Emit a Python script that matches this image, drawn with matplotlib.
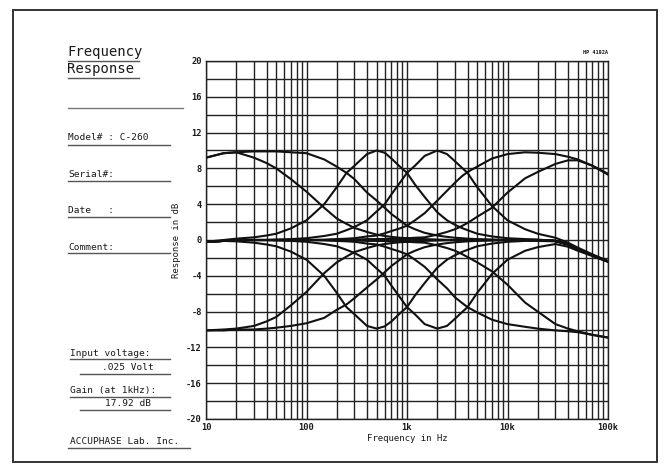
"""
Frequency response plot (Accuphase C-260 tone controls), HP 4192A style.
"""

import matplotlib
matplotlib.use("Agg")
import matplotlib.pyplot as plt
from matplotlib.lines import Line2D
from matplotlib.ticker import FixedLocator, NullFormatter

W, H = 664, 466

# Frequency points (Hz) shared by every curve
FREQS = [10, 15, 20, 30, 40, 50, 70, 100, 150, 200,
         250, 300, 400, 500, 600, 700, 850, 1000, 1200, 1500,
         2000, 2500, 3000, 3500, 4000, 5000, 7000, 10000, 15000, 20000,
         30000, 40000, 50000, 70000, 100000]

# Response in dB
flat = [-0.2, -0.1, 0, 0, 0, 0, 0, 0, 0, 0,
        0, 0, 0, 0, 0, 0, 0, 0, 0, 0,
        0, 0, 0, 0, 0, 0, 0, 0, 0, 0,
        -0.1, -0.5, -1.0, -1.7, -2.4]
bass_a_boost = [9.2, 9.7, 9.8, 9.2, 8.6, 8.0, 6.8, 5.4, 3.6, 2.4,
                1.8, 1.35, 0.9, 0.6, 0.45, 0.35, 0.25, 0.2, 0.15, 0.1,
                0.05, 0.02, 0, 0, 0, 0, 0, 0, 0, 0,
                -0.1, -0.5, -1.0, -1.7, -2.4]
bass_a_cut = [-10.1, -10.0, -9.9, -9.6, -9.1, -8.6, -7.3, -5.8, -3.7, -2.5,
              -1.85, -1.35, -0.9, -0.6, -0.45, -0.35, -0.25, -0.2, -0.15, -0.1,
              -0.05, -0.02, 0, 0, 0, 0, 0, 0, 0, 0,
              -0.1, -0.5, -1.0, -1.7, -2.4]
bass_b_boost = [9.2, 9.7, 9.8, 9.9, 9.9, 9.9, 9.8, 9.7, 9.0, 8.2,
                7.5, 6.8, 5.3, 4.4, 3.6, 2.9, 2.2, 1.6, 1.2, 0.8,
                0.5, 0.35, 0.25, 0.2, 0.15, 0.1, 0.05, 0, 0, 0,
                -0.1, -0.5, -1.0, -1.7, -2.4]
bass_b_cut = [-10.1, -10.1, -10.0, -10.0, -9.9, -9.8, -9.6, -9.3, -8.7, -7.8,
              -7.2, -6.5, -5.3, -4.4, -3.6, -2.9, -2.2, -1.6, -1.2, -0.8,
              -0.5, -0.35, -0.25, -0.2, -0.15, -0.1, -0.05, 0, 0, 0,
              -0.1, -0.5, -1.0, -1.7, -2.4]
bell_500_boost = [-0.2, 0.0, 0.15, 0.3, 0.5, 0.7, 1.3, 2.2, 4.0, 5.9,
                  7.5, 8.3, 9.6, 10.0, 9.75, 9.1, 8.2, 7.5, 6.2, 4.8,
                  3.1, 2.2, 1.7, 1.35, 1.1, 0.7, 0.4, 0.2, 0.1, 0.05,
                  -0.1, -0.5, -1.0, -1.7, -2.4]
bell_500_cut = [-0.2, -0.1, -0.15, -0.3, -0.5, -0.7, -1.3, -2.2, -4.0, -5.9,
                -7.5, -8.3, -9.6, -9.9, -9.65, -9.1, -8.2, -7.5, -6.2, -4.8,
                -3.1, -2.2, -1.7, -1.35, -1.1, -0.7, -0.4, -0.2, -0.1, -0.1,
                -0.15, -0.5, -1.0, -1.7, -2.4]
bell_2k_boost = [-0.2, -0.1, 0, 0, 0, 0.05, 0.1, 0.2, 0.45, 0.7,
                 1.1, 1.45, 2.2, 3.2, 4.0, 5.1, 6.4, 7.5, 8.3, 9.4,
                 10.0, 9.6, 8.8, 8.1, 7.5, 5.9, 3.8, 2.2, 1.2, 0.7,
                 0.25, -0.3, -0.85, -1.6, -2.35]
bell_2k_cut = [-0.2, -0.1, 0, 0, 0, -0.05, -0.1, -0.2, -0.45, -0.7,
               -1.1, -1.45, -2.2, -3.2, -4.0, -5.1, -6.4, -7.5, -8.3, -9.4,
               -9.9, -9.6, -8.8, -8.1, -7.5, -5.9, -3.8, -2.2, -1.2, -0.8,
               -0.45, -0.75, -1.2, -1.8, -2.45]
treble_a_boost = [-0.2, -0.1, 0, 0, 0, 0, 0, 0, 0, 0.05,
                  0.05, 0.05, 0.1, 0.1, 0.12, 0.15, 0.17, 0.2, 0.25, 0.3,
                  0.6, 0.9, 1.2, 1.55, 1.9, 2.6, 3.6, 5.3, 6.9, 7.6,
                  8.5, 8.9, 8.9, 8.3, 7.4]
treble_a_cut = [-0.2, -0.1, 0, 0, 0, 0, 0, 0, 0, -0.05,
                -0.05, -0.05, -0.1, -0.1, -0.12, -0.15, -0.17, -0.2, -0.25, -0.3,
                -0.6, -0.9, -1.2, -1.55, -1.9, -2.5, -3.5, -5.0, -7.0, -8.0,
                -9.4, -9.9, -10.2, -10.6, -10.9]
treble_b_boost = [-0.2, -0.1, 0, 0, 0, 0, 0, 0, 0.03, 0.1,
                  0.15, 0.2, 0.4, 0.5, 0.75, 1.0, 1.3, 1.6, 2.2, 3.0,
                  4.4, 5.5, 6.4, 7.1, 7.6, 8.2, 9.1, 9.6, 9.8, 9.75,
                  9.6, 9.3, 9.0, 8.3, 7.3]
treble_b_cut = [-0.2, -0.1, 0, 0, 0, 0, 0, 0, -0.03, -0.1,
                -0.15, -0.2, -0.4, -0.5, -0.75, -1.0, -1.3, -1.6, -2.2, -3.0,
                -4.4, -5.4, -6.4, -7.0, -7.5, -8.1, -8.9, -9.4, -9.7, -9.9,
                -10.1, -10.2, -10.3, -10.6, -10.9]

CURVES = [flat, bass_a_boost, bass_a_cut, bass_b_boost, bass_b_cut,
          bell_500_boost, bell_500_cut, bell_2k_boost, bell_2k_cut,
          treble_a_boost, treble_a_cut, treble_b_boost, treble_b_cut]

Y_TICKS = [20, 16, 12, 8, 4, 0, -4, -8, -12, -16, -20]
X_TICKS = [10, 100, 1000, 10000, 100000]
X_TICK_LABELS = ["10", "100", "1k", "10k", "100k"]

# left side form: (text, x, y, underline x0, x1, underline y)
FORM = [
    ("Model# : C-260", 68, 138, 68, 170, 145),
    ("Serial#:", 68, 175, 68, 170, 181),
    ("Date   :", 68, 211, 68, 170, 217),
    ("Comment:", 68, 247, 68, 170, 253),
    ("Input voltage:", 70, 353, 70, 170, 359),
    ("Gain (at 1kHz):", 70, 391, 70, 170, 397),
    ("ACCUPHASE Lab. Inc.", 70, 441, 68, 190, 448),
]
VALUES = [(".025 Volt", 128, 368, 80, 170, 374),
          ("17.92 dB", 128, 404, 80, 170, 410)]

MONO = "DejaVu Sans Mono"
INK = "#1a1a1a"


def fx(x):
    return x / W


def fy(y):
    return 1 - y / H


def hline(fig, x0, x1, y, lw=1.0, color="#555555"):
    fig.add_artist(Line2D([fx(x0), fx(x1)], [fy(y), fy(y)],
                          transform=fig.transFigure, lw=lw, color=color))


def main():
    fig = plt.figure(figsize=(W / 100, H / 100), dpi=100)
    fig.patch.set_facecolor("white")

    # outer frame
    fig.add_artist(plt.Rectangle((fx(13), fy(462)), fx(657) - fx(13),
                                 fy(10) - fy(462), transform=fig.transFigure,
                                 fill=False, lw=1.4, edgecolor="#333333"))

    ax = fig.add_axes([fx(206), fy(419), fx(608) - fx(206), fy(61) - fy(419)])
    ax.set_xscale("log")
    ax.set_xlim(10, 100000)
    ax.set_ylim(-20, 20)

    # plotter grid: every 2 dB, every 1..9 per decade
    minor = [m * 10 ** d for d in range(1, 5) for m in range(2, 10)]
    ax.xaxis.set_major_locator(FixedLocator(X_TICKS))
    ax.xaxis.set_minor_locator(FixedLocator(minor))
    ax.xaxis.set_minor_formatter(NullFormatter())
    ax.yaxis.set_major_locator(FixedLocator(Y_TICKS))
    ax.yaxis.set_minor_locator(FixedLocator(list(range(-18, 20, 4))))
    ax.grid(True, which="both", color="#222222", lw=1.0)
    ax.tick_params(which="both", length=0, pad=3)
    ax.set_xticklabels(X_TICK_LABELS, fontsize=6.3, family=MONO,
                       fontweight="bold", color=INK)
    ax.set_yticklabels([str(v) for v in Y_TICKS], fontsize=6.3, family=MONO,
                       fontweight="bold", color=INK)
    for s in ax.spines.values():
        s.set_color("#222222")
        s.set_linewidth(1.0)

    for vals in CURVES:
        ax.plot(FREQS, vals, color="#111111", lw=1.5)

    ax.set_xlabel("Frequency in Hz", fontsize=6.5, family=MONO, color=INK,
                  labelpad=1)
    ax.set_ylabel("Response in dB", fontsize=6.5, family=MONO, color=INK,
                  labelpad=4)
    fig.text(fx(608), fy(53), "HP 4192A", fontsize=3.8, family=MONO,
             fontweight="bold", ha="right", va="center", color=INK)

    # title block
    fig.text(fx(67), fy(52), "Frequency", fontsize=10, family=MONO,
             va="center", color=INK)
    hline(fig, 68, 139, 61)
    fig.text(fx(67), fy(69), "Response", fontsize=10, family=MONO,
             va="center", color=INK)
    hline(fig, 68, 139, 78)
    hline(fig, 68, 183, 108, color="#777777")

    for txt, x, y, x0, x1, yl in FORM:
        fig.text(fx(x), fy(y), txt, fontsize=6.8, family=MONO, va="center",
                 color=INK)
        hline(fig, x0, x1, yl)
    for txt, x, y, x0, x1, yl in VALUES:
        fig.text(fx(x), fy(y), txt, fontsize=6.8, family=MONO, va="center",
                 ha="center", color=INK)
        hline(fig, x0, x1, yl)

    fig.savefig("out.png", dpi=100)


if __name__ == "__main__":
    main()
